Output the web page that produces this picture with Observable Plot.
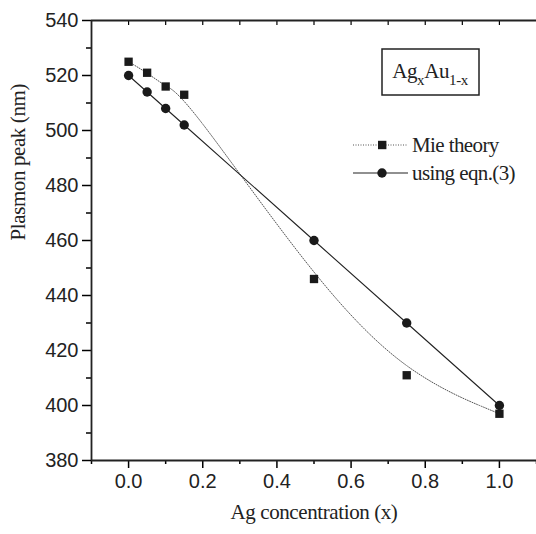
<!DOCTYPE html>
<html><head><meta charset="utf-8">
<script src="https://cdn.jsdelivr.net/npm/d3@7"></script>
<script src="https://cdn.jsdelivr.net/npm/@observablehq/plot@0.6"></script>
<style>body{margin:0;background:#fff}</style>
</head><body><div id="chart"></div>
<script>
const conc = [0, 0.05, 0.1, 0.15, 0.5, 0.75, 1.0];
const mie = [525, 521, 516, 513, 446, 411, 397];
const eqn = [520, 514, 508, 502, 460, 430, 400];
const xTicks = [0, 0.2, 0.4, 0.6, 0.8, 1.0];
const xMinor = [-0.1, 0.1, 0.3, 0.5, 0.7, 0.9, 1.1];
const xTop = [0, 0.1, 0.2, 0.3, 0.4, 0.5, 0.6, 0.7, 0.8, 0.9, 1.0];
const yTicks = [380, 400, 420, 440, 460, 480, 500, 520, 540];
const yMinor = [390, 410, 430, 450, 470, 490, 510, 530];
const seriesNames = ["Mie theory", "using eqn.(3)"];
const xLabel = "Ag concentration (x)";
const yLabel = "Plasmon peak (nm)";

const mieData = conc.map((x, i) => ({x, y: mie[i]}));
const eqnData = conc.map((x, i) => ({x, y: eqn[i]}));
const sans = "'Liberation Sans', Arial, sans-serif";
const serif = "'Liberation Serif', 'Times New Roman', serif";

const plot = Plot.plot({
  width: 536, height: 534,
  marginLeft: 91, marginRight: 0, marginTop: 20, marginBottom: 74,
  x: {domain: [-0.1, 1.1]},
  y: {domain: [380, 540]},
  style: {fontFamily: sans, background: "#fff"},
  marks: [
    Plot.axisX(xTicks, {tickSize: 8, tickPadding: 5, tickFormat: d3.format(".1f"), fontSize: 20, label: null, strokeWidth: 1.5, fill: "#222"}),
    Plot.axisX(xMinor, {tickSize: 4, tickFormat: () => "", label: null, strokeWidth: 1.5}),
    Plot.axisX(xTop, {anchor: "top", tickSize: -4, tickFormat: () => "", label: null, strokeWidth: 1.2}),
    Plot.axisY(yTicks, {tickSize: 9, tickPadding: 4, fontSize: 20, label: null, strokeWidth: 1.5, fill: "#222"}),
    Plot.axisY(yMinor, {tickSize: 5, tickFormat: () => "", label: null, strokeWidth: 1.5}),
    Plot.ruleY([380, 540], {strokeWidth: 1.8, stroke: "#222"}),
    Plot.ruleX([-0.1], {strokeWidth: 1.8, stroke: "#222"}),
    Plot.line(mieData, {x: "x", y: "y", curve: "basis", stroke: "#555", strokeWidth: 1, strokeDasharray: "1,1.5"}),
    Plot.line(eqnData, {x: "x", y: "y", stroke: "#222", strokeWidth: 1.1}),
    Plot.dot(mieData, {x: "x", y: "y", symbol: "square", r: 4.7, fill: "#1a1a1a", stroke: "none"}),
    Plot.dot(eqnData, {x: "x", y: "y", symbol: "circle", r: 4.7, fill: "#1a1a1a", stroke: "none"}),
    Plot.text([xLabel], {frameAnchor: "bottom", dy: 58, fontFamily: serif, fontSize: 21, fill: "#222", style: "letter-spacing:-0.4px"}),
    Plot.text([yLabel], {frameAnchor: "left", dx: -73, rotate: -90, fontFamily: serif, fontSize: 21, fill: "#222"})
  ]
});
document.getElementById("chart").append(plot);
d3.select(plot).selectAll("text").filter(function() { return this.textContent === xLabel || this.textContent === yLabel; })
  .style("letter-spacing", "-0.4px");

// Legend and annotation box
const svg = d3.select(plot);
const g = svg.append("g").attr("font-family", serif).attr("fill", "#222").attr("text-anchor", "start");
const items = [
  {name: seriesNames[0], y: 145, dash: "1,1.5", stroke: "#555", sym: "square"},
  {name: seriesNames[1], y: 173, dash: null, stroke: "#222", sym: "circle"}
];
items.forEach(it => {
  g.append("line").attr("x1", 353).attr("x2", 408).attr("y1", it.y).attr("y2", it.y)
    .attr("stroke", it.stroke).attr("stroke-width", 1.1).attr("stroke-dasharray", it.dash);
  if (it.sym === "square") g.append("rect").attr("x", 378).attr("y", it.y - 4.2).attr("width", 8.4).attr("height", 8.4).attr("fill", "#1a1a1a");
  else g.append("circle").attr("cx", 382).attr("cy", it.y).attr("r", 4.7).attr("fill", "#1a1a1a");
  g.append("text").attr("x", 412).attr("y", it.y).attr("dy", "0.32em").attr("font-size", 21)
    .style("letter-spacing", "-0.6px").attr("text-anchor", "start").text(it.name);
});
g.append("rect").attr("x", 382).attr("y", 49).attr("width", 97).attr("height", 46)
  .attr("fill", "none").attr("stroke", "#222").attr("stroke-width", 1.5);
const t = g.append("text").attr("x", 430).attr("y", 78).attr("text-anchor", "middle").attr("font-size", 21).style("letter-spacing", "-0.4px");
t.append("tspan").text("Ag");
t.append("tspan").attr("dy", 7).attr("font-size", 15).text("x");
t.append("tspan").attr("dy", -7).text("Au");
t.append("tspan").attr("dy", 7).attr("font-size", 15).text("1-x");
</script>
</body></html>
